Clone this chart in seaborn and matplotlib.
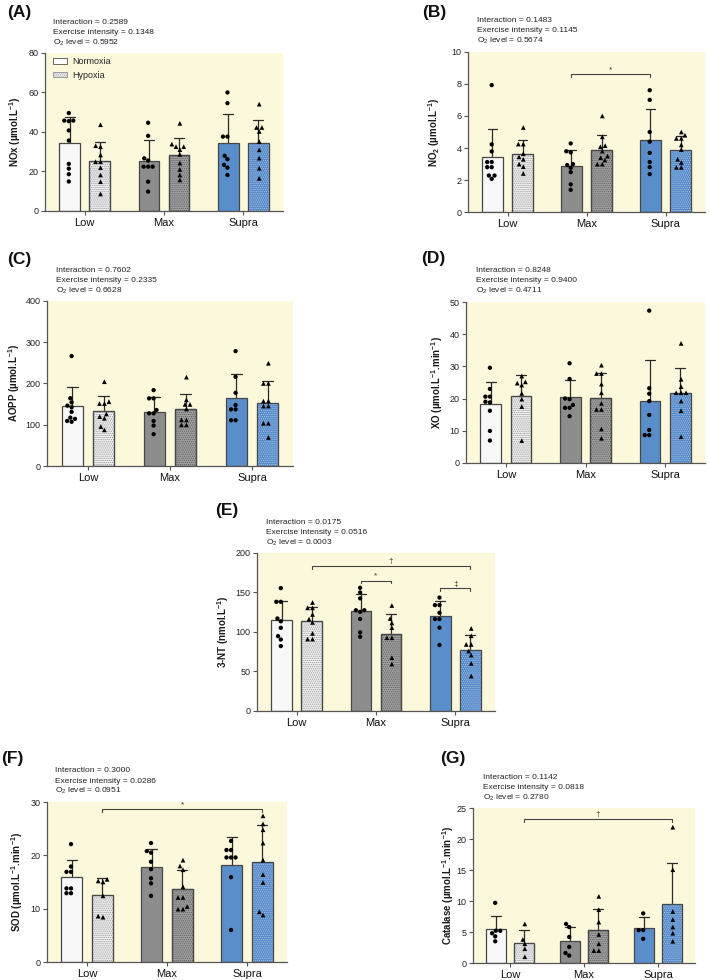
import numpy as np
import pandas as pd
import matplotlib
matplotlib.use("Agg")
import matplotlib.pyplot as plt
import seaborn as sns
from matplotlib.patches import Patch, Rectangle

W, H = 709, 980

intensities = ["Low", "Max", "Supra"]
oxygen = ["Normoxia", "Hypoxia"]

# ---------------- data (individual values per intensity: Low, Max, Supra) ----------------
nox_normoxia = [[49.5, 45.7, 45.7, 45.4, 40.7, 35.6, 23.8, 21.4, 18.6, 14.9],
                [44.6, 38.0, 26.6, 25.5, 22.4, 22.4, 22.4, 14.8, 9.8],
                [59.9, 54.5, 37.6, 37.6, 27.9, 26.2, 23.3, 21.9, 18.2]]
nox_hypoxia = [[43.6, 33.0, 32.5, 28.3, 24.9, 24.9, 21.9, 18.2, 14.8, 8.6],
               [44.3, 33.8, 32.5, 32.5, 31.0, 28.6, 24.2, 21.0, 18.2, 15.7],
               [54.0, 42.2, 42.2, 40.2, 35.1, 30.9, 26.7, 21.6, 16.5]]

no2_normoxia = [[7.92, 4.23, 3.79, 3.13, 3.13, 2.81, 2.81, 2.29, 2.29, 2.08],
                [4.29, 3.80, 3.73, 3.00, 2.94, 2.77, 2.50, 1.74, 1.40],
                [7.6, 7.0, 5.0, 4.4, 3.7, 3.13, 2.81, 2.38]]
no2_hypoxia = [[5.28, 4.25, 4.25, 3.65, 3.45, 3.30, 3.00, 2.84, 2.42],
               [6.0, 4.7, 4.15, 4.08, 3.81, 3.5, 3.4, 3.25, 3.0, 3.0],
               [5.0, 4.8, 4.6, 4.6, 4.2, 3.9, 3.3, 3.1, 2.8, 2.8]]

aopp_normoxia = [[266, 164, 154, 146, 142, 131, 117, 114, 109, 107],
                 [183.6, 163.6, 163.6, 135.5, 127.5, 127.5, 109, 97.8, 77],
                 [278, 215.7, 177, 147.5, 137, 137, 110.7, 110.7]]
aopp_hypoxia = [[204, 155.6, 151, 151, 126, 119.5, 115.5, 95.4, 87.4],
                [215, 160, 149, 149, 138, 111.5, 111.5, 99.4, 99.4],
                [248.6, 199.7, 199.7, 157, 157, 145, 145, 103.4, 103.4, 69]]

xo_normoxia = [[29.6, 23.0, 20.6, 20.6, 19.0, 18.8, 16.2, 9.9, 6.9],
               [31.0, 26.1, 20.0, 19.8, 18.0, 17.1, 17.1, 14.5],
               [47.4, 23.2, 21.5, 19.2, 14.9, 10.2, 8.6, 8.6]]
xo_hypoxia = [[27.0, 25.2, 24.8, 24.2, 21.6, 19.8, 17.5, 6.9],
              [30.4, 27.8, 27.8, 24.5, 21.8, 18.5, 16.6, 16.6, 10.5, 7.6],
              [37.2, 26.0, 23.7, 21.8, 21.8, 21.8, 19.2, 16.2, 8.1]]

nt_normoxia = [[155, 137.7, 137.7, 116.6, 113, 104.8, 94.3, 90, 81.7],
               [155.4, 149.5, 142, 127, 127, 125, 116, 99, 93.5],
               [143, 133.5, 133.5, 123.8, 115.8, 115.8, 105, 83]]
nt_hypoxia = [[136.8, 130, 130, 121.7, 115.8, 111.6, 97.7, 90.5, 90.5],
              [133, 116.6, 111, 105, 92.2, 92.2, 67, 59],
              [104, 94.7, 83.8, 83.8, 75.4, 70.3, 59.8, 43.8]]

sod_normoxia = [[22.1, 17.9, 16.9, 16.9, 13.8, 13.8, 12.9, 12.9],
                [22.3, 20.8, 20.5, 18.8, 17.4, 15.7, 14.75, 12.4],
                [22.7, 21.0, 21.0, 19.6, 19.6, 19.6, 15.9, 6.0]]
sod_hypoxia = [[15.5, 15.2, 15.0, 12.4, 8.6, 8.4],
               [19.1, 18.0, 17.3, 14.1, 12.1, 12.1, 10.4, 9.9, 9.9],
               [27.4, 25.9, 24.8, 22.3, 19.1, 16.4, 14.9, 9.4, 8.8]]

cat_normoxia = [[9.7, 5.2, 5.2, 4.8, 4.3, 3.5],
                [6.3, 5.8, 4.2, 2.6, 1.6, 1.2],
                [8.0, 5.3, 5.3, 3.9]]
cat_hypoxia = [[6.3, 3.8, 3.1, 2.3, 1.0],
               [10.75, 8.6, 6.6, 4.6, 3.1, 2.0, 2.0],
               [21.9, 15.05, 8.3, 7.0, 5.8, 4.8, 3.5]]

stat_names = ["Interaction", "Exercise intensity", r"O$_2$ level"]
nox_stats = ["0.2589", "0.1348", "0.5952"]
no2_stats = ["0.1483", "0.1145", "0.5674"]
aopp_stats = ["0.7602", "0.2335", "0.6628"]
xo_stats = ["0.8248", "0.9400", "0.4711"]
nt_stats = ["0.0175", "0.0516", "0.0003"]
sod_stats = ["0.3000", "0.0286", "0.0951"]
cat_stats = ["0.1142", "0.0818", "0.2780"]

ylab_nox = "NOx (µmol.L$^{\\mathbf{-1}}$)"
ylab_no2 = "NO$_{\\mathbf{2}}$ (µmol.L$^{\\mathbf{-1}}$)"
ylab_aopp = "AOPP (µmol.L$^{\\mathbf{-1}}$)"
ylab_xo = "XO (µmol.L$^{\\mathbf{-1}}$.min$^{\\mathbf{-1}}$)"
ylab_nt = "3-NT (nmol.L$^{\\mathbf{-1}}$)"
ylab_sod = "SOD (µmol.L$^{\\mathbf{-1}}$.min$^{\\mathbf{-1}}$)"
ylab_cat = "Catalase (µmol.L$^{\\mathbf{-1}}$.min$^{\\mathbf{-1}}$)"

# ---------------- style ----------------
sns.set_theme(style="ticks")
plt.rcParams["font.family"] = ["Liberation Sans", "DejaVu Sans"]
plt.rcParams["mathtext.fontset"] = "custom"
plt.rcParams["mathtext.rm"] = "Liberation Sans"
plt.rcParams["mathtext.it"] = "Liberation Sans:italic"
plt.rcParams["mathtext.bf"] = "Liberation Sans:bold"
plt.rcParams["hatch.linewidth"] = 0.6

BG = "#fcf8dc"
EDGE = "#474747"
norm_colors = ["#f8f8f8", "#8d8d8d", "#5a8ecb"]
hyp_face = ["#f0f0f0", "#a3a3a3", "#5288c8"]
hyp_hatch = ["#9a9a9a", "#5a5a5a", "#a9c6ea"]
HATCH = "........"
DODGE = 0.19

panels = [
    dict(letter="(A)", N=nox_normoxia, Hy=nox_hypoxia, stats=nox_stats, ylabel=ylab_nox,
         ymax=80, step=20, box=(45, 52.7, 283, 211), lpos=(7, 12.7), spos=(53, 22.3),
         yoff=30, legend=True, brackets=[]),
    dict(letter="(B)", N=no2_normoxia, Hy=no2_hypoxia, stats=no2_stats, ylabel=ylab_no2,
         ymax=10, step=2, box=(468, 51.7, 705, 212.3), lpos=(422, 12), spos=(477, 20.7),
         yoff=34, legend=False, brackets=[("Max", 0, "Supra", 0, 8.6, "*")]),
    dict(letter="(C)", N=aopp_normoxia, Hy=aopp_hypoxia, stats=aopp_stats, ylabel=ylab_aopp,
         ymax=400, step=100, box=(47, 300.7, 293, 466), lpos=(7, 259.3), spos=(56, 270),
         yoff=33, legend=False, brackets=[]),
    dict(letter="(D)", N=xo_normoxia, Hy=xo_hypoxia, stats=xo_stats, ylabel=ylab_xo,
         ymax=50, step=10, box=(466, 302.3, 705, 462.7), lpos=(421, 259), spos=(476, 270.7),
         yoff=29, legend=False, brackets=[]),
    dict(letter="(E)", N=nt_normoxia, Hy=nt_hypoxia, stats=nt_stats, ylabel=ylab_nt,
         ymax=200, step=50, box=(257, 552.5, 495, 710.7), lpos=(215, 510), spos=(266, 522.7),
         yoff=34, legend=False,
         brackets=[("Low", 1, "Supra", 1, 183, "†"), ("Max", 0, "Max", 1, 164.6, "*"),
                   ("Supra", 0, "Supra", 1, 154.5, "‡")]),
    dict(letter="(F)", N=sod_normoxia, Hy=sod_hypoxia, stats=sod_stats, ylabel=ylab_sod,
         ymax=30, step=10, box=(47, 802, 287, 962), lpos=(1, 758), spos=(55, 770.7),
         yoff=30, legend=False, brackets=[("Low", 1, "Supra", 1, 28.7, "*")]),
    dict(letter="(G)", N=cat_normoxia, Hy=cat_hypoxia, stats=cat_stats, ylabel=ylab_cat,
         ymax=25, step=5, box=(473, 808, 695, 963), lpos=(440, 758), spos=(483, 777.3),
         yoff=25, legend=False, brackets=[("Low", 1, "Supra", 1, 23.2, "†")]),
]


def make_df(norm, hyp):
    rows = []
    for i, lvl in enumerate(intensities):
        rows += [(lvl, "Normoxia", v) for v in norm[i]]
        rows += [(lvl, "Hypoxia", v) for v in hyp[i]]
    return pd.DataFrame(rows, columns=["intensity", "oxygen", "value"])


fig = plt.figure(figsize=(W / 100, H / 100), dpi=100)
fig.patch.set_facecolor("white")

for p in panels:
    l, t, r, b = p["box"]
    ax = fig.add_axes([l / W, 1 - b / H, (r - l) / W, (b - t) / H])
    ax.set_facecolor(BG)
    df = make_df(p["N"], p["Hy"])

    sns.barplot(data=df, x="intensity", y="value", hue="oxygen", order=intensities,
                hue_order=oxygen, errorbar="sd", capsize=0.25, width=0.76, gap=0.32,
                err_kws={"color": "#2b2b2b", "linewidth": 0.9}, edgecolor=EDGE,
                linewidth=0.9, palette=["white", "white"], legend=False, ax=ax)
    for ln in ax.lines:
        ln.set_zorder(0.8)
    for patch in list(ax.patches):
        cx = patch.get_x() + patch.get_width() / 2
        i = int(round(cx))
        patch.set_zorder(1)
        if cx < i:
            patch.set_facecolor(norm_colors[i])
            patch.set_edgecolor(EDGE)
        else:
            patch.set_facecolor(hyp_face[i])
            patch.set_edgecolor(hyp_hatch[i])
            patch.set_hatch(HATCH)
            ax.add_patch(Rectangle((patch.get_x(), patch.get_y()), patch.get_width(),
                                   patch.get_height(), fill=False, edgecolor=EDGE,
                                   linewidth=0.9, zorder=1.1))

    for o, m, s in [("Normoxia", "o", 3.1), ("Hypoxia", "^", 3.4)]:
        sns.swarmplot(data=df[df["oxygen"] == o], x="intensity", y="value", hue="oxygen",
                      order=intensities, hue_order=oxygen, dodge=True,
                      palette={"Normoxia": "black", "Hypoxia": "black"}, marker=m, size=s,
                      linewidth=0, legend=False, ax=ax, zorder=3)

    ymax, step = p["ymax"], p["step"]
    ax.set_xlim(-0.5, 2.5)
    ax.set_ylim(0, ymax)
    ax.set_yticks(np.arange(0, ymax + step / 2, step))
    ax.set_xlabel("")
    ax.set_ylabel(p["ylabel"], fontsize=7, fontweight="bold", color="#1a1a1a")
    ax.yaxis.label.set_va("center")
    ax.yaxis.set_label_coords(-p["yoff"] / (r - l), 0.5)
    for sp in ["top", "right"]:
        ax.spines[sp].set_visible(False)
    for sp in ["left", "bottom"]:
        ax.spines[sp].set_color("#555555")
        ax.spines[sp].set_linewidth(0.9)
    ax.tick_params(axis="y", labelsize=6.5, length=3, width=0.8, pad=1.5,
                   color="#555555", labelcolor="#222222")
    ax.tick_params(axis="x", labelsize=8, length=3, width=0.8, pad=2,
                   color="#555555", labelcolor="#111111")

    for c1, s1, c2, s2, yv, sym in p["brackets"]:
        x1 = intensities.index(c1) + (DODGE if s1 else -DODGE)
        x2 = intensities.index(c2) + (DODGE if s2 else -DODGE)
        h = ymax * 0.018
        ax.plot([x1, x1, x2, x2], [yv - h, yv, yv, yv - h], color="#444444", lw=0.8,
                zorder=4, clip_on=False)
        ax.text((x1 + x2) / 2, yv + ymax * 0.006, sym, ha="center", va="bottom",
                fontsize=6, color="#333333")

    if p["legend"]:
        handles = [Patch(facecolor="white", edgecolor="#666666", linewidth=0.7, label="Normoxia"),
                   Patch(facecolor="#f0f0f0", edgecolor="#9a9a9a", linewidth=0.7,
                         hatch=HATCH, label="Hypoxia")]
        ax.legend(handles=handles, loc="upper left", bbox_to_anchor=(53 / W, 1 - 57.5 / H),
                  bbox_transform=fig.transFigure, frameon=False, fontsize=6.5,
                  handlelength=1.5, handleheight=0.6, handletextpad=0.6,
                  labelspacing=0.45, borderpad=0, borderaxespad=0)

    fig.text(p["lpos"][0] / W, 1 - p["lpos"][1] / H, p["letter"], fontsize=12.5,
             fontweight="bold", ha="left", va="center", color="#111111")
    for k, (nm, val) in enumerate(zip(stat_names, p["stats"])):
        fig.text(p["spos"][0] / W, 1 - (p["spos"][1] + 10.3 * k) / H, f"{nm} = {val}",
                 fontsize=6, ha="left", va="center", color="#222222")

fig.savefig("out.png", dpi=100, facecolor="white")
